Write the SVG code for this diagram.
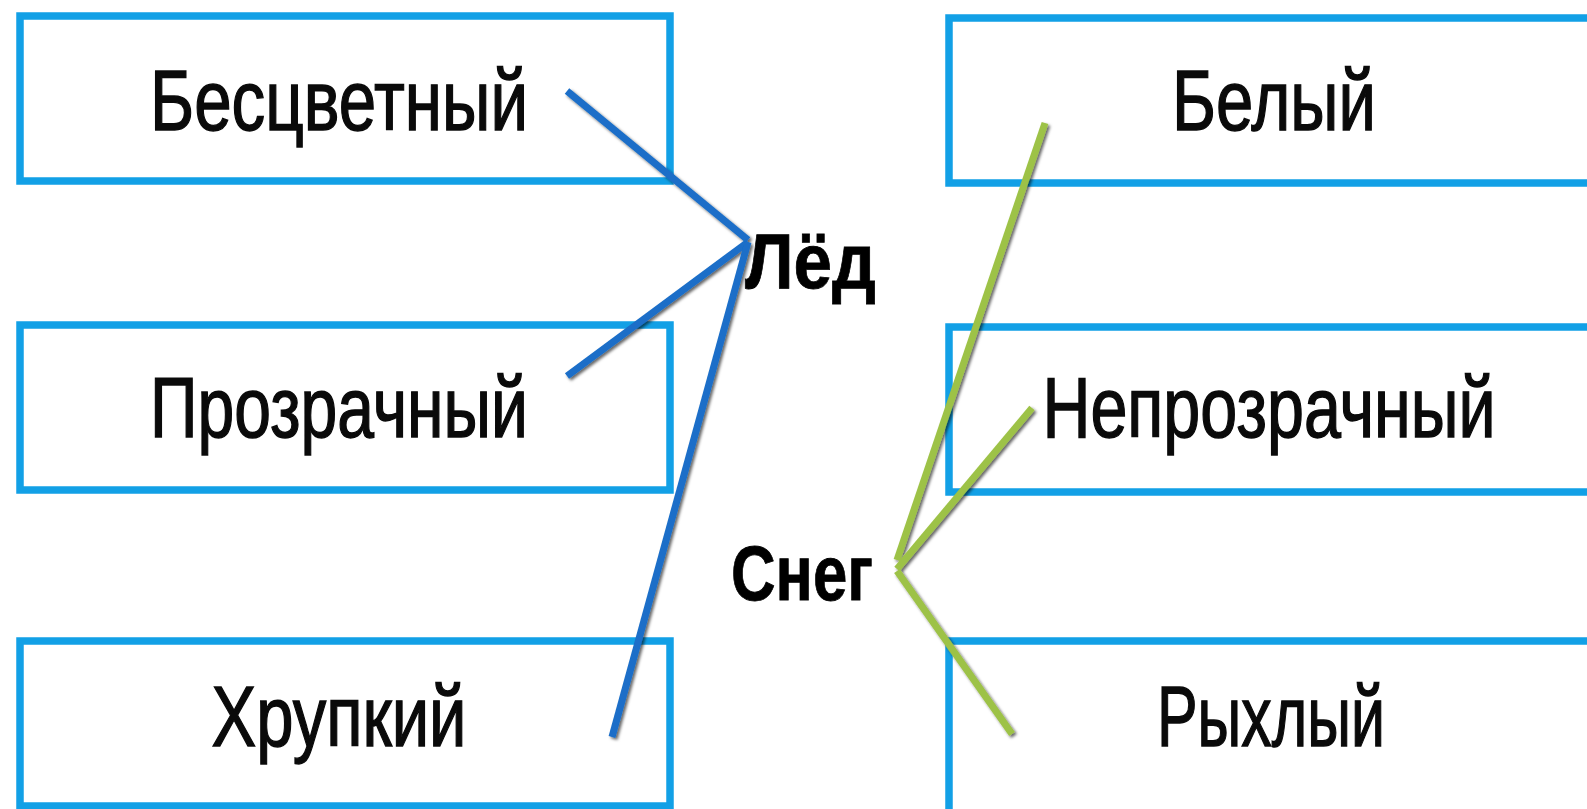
<svg xmlns="http://www.w3.org/2000/svg" width="1587" height="809" viewBox="0 0 1587 809">
<style>
.box{fill:#ffffff;stroke:#12a0e6;stroke-width:7.5}
.lbl{font-family:"Liberation Sans",Arial,sans-serif;font-size:85px;fill:#0a0a0a;stroke:#0a0a0a;stroke-width:1.4;text-anchor:middle}
.hub{font-family:"Liberation Sans",Arial,sans-serif;font-size:77px;font-weight:bold;fill:#000000;stroke:#000000;stroke-width:0.8}
.blue{stroke:#1a6ec8;stroke-width:7;stroke-linecap:butt;fill:none}
.green{stroke:#9dc246;stroke-width:7;stroke-linecap:butt;fill:none}
</style>
<defs>
<filter id="sh" x="-20%" y="-20%" width="140%" height="140%">
<feDropShadow dx="2" dy="2" stdDeviation="1.5" flood-color="#000" flood-opacity="0.6"/>
</filter>
</defs>
<rect width="1587" height="809" fill="#ffffff"/>
<g id="n-bescvetny"><rect class="box" x="20" y="16" width="650" height="165"/><text class="lbl" x="339" y="130" textLength="378" lengthAdjust="spacingAndGlyphs">Бесцветный</text></g>
<g id="n-prozrachny"><rect class="box" x="20" y="325" width="650" height="165"/><text class="lbl" x="339" y="437" textLength="378" lengthAdjust="spacingAndGlyphs">Прозрачный</text></g>
<g id="n-hrupky"><rect class="box" x="20" y="641" width="650" height="165"/><text class="lbl" x="339" y="746" textLength="255" lengthAdjust="spacingAndGlyphs">Хрупкий</text></g>
<g id="n-bely"><path class="box" d="M1587,18 H949 V183 H1587"/><text class="lbl" x="1274" y="130" textLength="204" lengthAdjust="spacingAndGlyphs">Белый</text></g>
<g id="n-neprozrachny"><path class="box" d="M1587,327 H949 V492 H1587"/><text class="lbl" transform="translate(1269,437) scale(0.78,1)" x="0" y="0" textLength="581" lengthAdjust="spacingAndGlyphs">Непрозрачный</text></g>
<g id="n-ryhly"><path class="box" d="M1587,641 H949 V809"/><text class="lbl" x="1271" y="746" textLength="228" lengthAdjust="spacingAndGlyphs">Рыхлый</text></g>
<g id="n-led"><text class="hub" x="745" y="288" textLength="131" lengthAdjust="spacingAndGlyphs">Лёд</text></g>
<g id="n-sneg"><text class="hub" x="731" y="600" textLength="142" lengthAdjust="spacingAndGlyphs">Снег</text></g>
<g id="connectors" filter="url(#sh)">
<line class="blue" x1="567" y1="91" x2="748" y2="240"/>
<line class="blue" x1="567" y1="376" x2="748" y2="242"/>
<line class="blue" x1="612" y1="737" x2="748" y2="242"/>
<line class="green" x1="1045" y1="123" x2="897" y2="560"/>
<line class="green" x1="1032" y1="408" x2="897" y2="569"/>
<line class="green" x1="897" y1="571" x2="1012" y2="734"/>
</g>
</svg>
